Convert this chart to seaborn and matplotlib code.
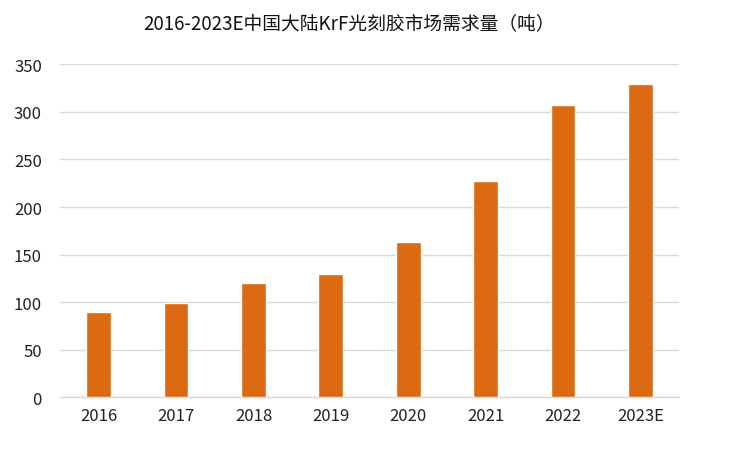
import pandas as pd
import seaborn as sns
import matplotlib.pyplot as plt

# data
years = ["2016", "2017", "2018", "2019", "2020", "2021", "2022", "2023E"]
demand = [90, 99, 120, 130, 163, 227, 307, 329]

df = pd.DataFrame({"year": years, "demand": demand})

sns.set_style("white")
plt.rcParams['font.family'] = ['Noto Sans CJK SC', 'DejaVu Sans']

fig = plt.figure(figsize=(7.54, 4.56), dpi=100)
ax = fig.add_axes([0.0796, 0.1265, 0.8209, 0.7303])

sns.barplot(data=df, x="year", y="demand", color="#DB6A12", width=0.32,
            saturation=1, ax=ax, zorder=3)

ax.set_ylim(0, 350)
ax.set_xlim(-0.5, 7.5)
ax.set_yticks(range(0, 351, 50))
ax.yaxis.grid(True, color="#d9d9d9", linewidth=1, zorder=0)
ax.set_axisbelow(True)
for s in ["top", "right", "left"]:
    ax.spines[s].set_visible(False)
ax.spines["bottom"].set_color("#d9d9d9")
ax.spines["bottom"].set_linewidth(1)
ax.tick_params(axis="both", length=0, labelsize=12, colors="#222222")
ax.tick_params(axis="y", pad=13)
ax.tick_params(axis="x", pad=7)
ax.set_xlabel("")
ax.set_ylabel("")

fig.text(0.4635, 0.945, "2016-2023E中国大陆KrF光刻胶市场需求量（吨）",
         ha="center", va="center", fontsize=13.5, color="#111111")

fig.savefig("out.png", dpi=100)
